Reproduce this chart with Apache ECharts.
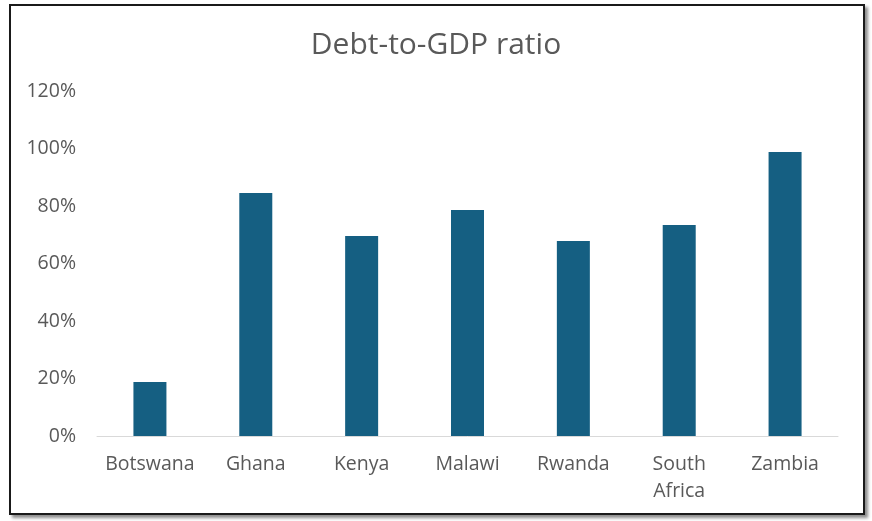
<!DOCTYPE html>
<html>
<head>
<meta charset="utf-8">
<script src="https://cdn.jsdelivr.net/npm/echarts@6/dist/echarts.min.js"></script>
<style>
html,body{margin:0;padding:0;background:#fff;}
#c{position:absolute;left:0;top:0;width:872px;height:521px;}
#frame{position:absolute;left:9px;top:4px;width:852px;height:507px;border:2px solid #1a1a1a;box-shadow:3px 3px 3px rgba(0,0,0,0.45);pointer-events:none;}
</style>
</head>
<body>
<div id="frame"></div>
<div id="c"></div>
<script>
const categories = ['Botswana','Ghana','Kenya','Malawi','Rwanda','South\nAfrica','Zambia'];
const debtRatio = [0.188, 0.845, 0.696, 0.786, 0.678, 0.734, 0.988];
const yTicks = {min: 0, max: 1.2, interval: 0.2};

const chart = echarts.init(document.getElementById('c'), null, {renderer:'canvas'});
const font = 'Open Sans';
chart.setOption({
  animation: false,
  title: {
    text: 'Debt-to-GDP ratio',
    left: 'center',
    top: 25,
    textStyle: {fontFamily: font, fontSize: 30, fontWeight: 'normal', color: '#595959'}
  },
  grid: {left: 97, right: 34, top: 91, bottom: 85, containLabel: false},
  xAxis: {
    type: 'category',
    data: categories,
    axisLine: {lineStyle: {color: '#d9d9d9', width: 1}},
    axisTick: {show: false},
    axisLabel: {fontFamily: font, fontSize: 19.5, color: '#595959', margin: 15, lineHeight: 27, interval: 0}
  },
  yAxis: {
    type: 'value',
    min: yTicks.min, max: yTicks.max, interval: yTicks.interval,
    splitLine: {show: false},
    axisLine: {show: false},
    axisTick: {show: false},
    axisLabel: {fontFamily: font, fontSize: 19.5, color: '#595959', margin: 21,
      formatter: v => Math.round(v*100) + '%'}
  },
  series: [{
    type: 'bar',
    data: debtRatio,
    barWidth: 33,
    itemStyle: {color: '#155f82'}
  }]
});
</script>
</body>
</html>
